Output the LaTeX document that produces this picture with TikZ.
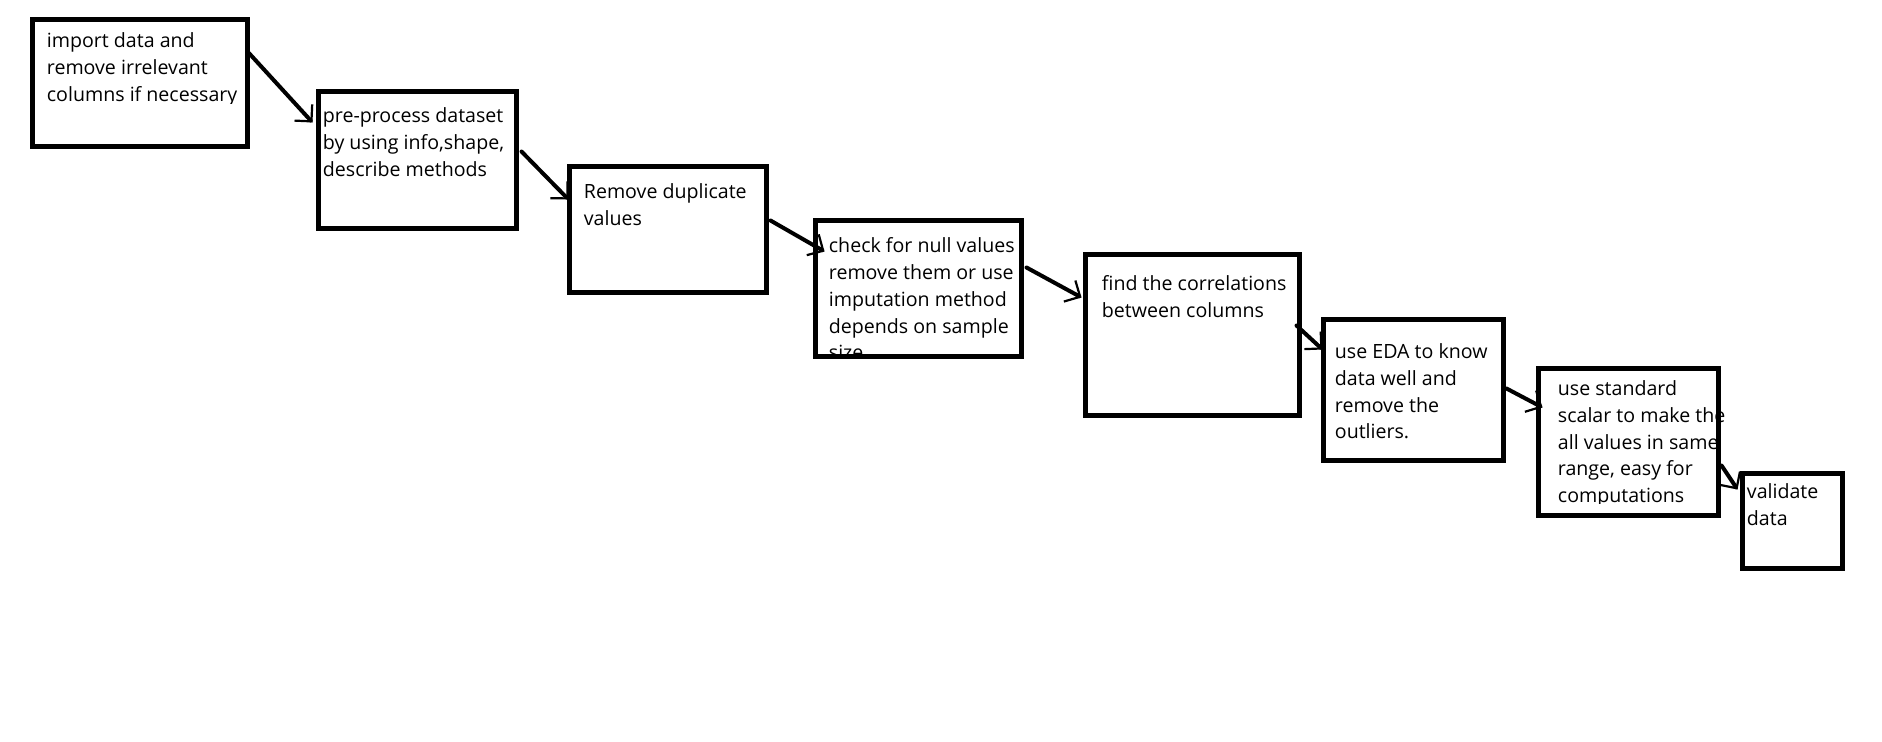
\documentclass[tikz,border=0pt]{standalone}
\usepackage{fontspec}
\setmainfont{Open Sans}
\usetikzlibrary{arrows.meta,fit,calc}
\begin{document}
\begin{tikzpicture}[x=0.5pt,y=-0.5pt,
  stepbox/.style={draw=black, line width=2.5pt, inner sep=0pt},
  steptext/.style={anchor=north west, inner sep=0pt, align=left,
    font=\fontsize{9.8pt}{13.35pt}\selectfont},
  flow/.style={draw=black, line width=2pt, line cap=round,
    -{Straight Barb[length=6pt,width=12pt,line width=1.1pt]}}]
  % canvas
  \useasboundingbox[fill=white] (0,0) rectangle (1882,741);

  % process boxes
  \node[stepbox, fit={(32,19)(247,146)}]    (b1) {};
  \node[stepbox, fit={(318,91)(516,228)}]   (b2) {};
  \node[stepbox, fit={(569,166)(766,292)}]  (b3) {};
  \node[stepbox, fit={(815,220)(1021,356)}] (b4) {};
  \node[stepbox, fit={(1085,254)(1299,415)}] (b5) {};
  \node[stepbox, fit={(1323,319)(1503,460)}] (b6) {};
  \node[stepbox, fit={(1538,368)(1718,515)}] (b7) {};
  \node[stepbox, fit={(1742,473)(1842,568)}] (b8) {};

  % box labels (some text frames cut off their last line)
  \begin{scope}
    \clip ($(b1.north west)+(0,0)$) rectangle ($(b1.north east)+(0,87)$);
    \node[steptext] (t1) at ($(b1.north west)+(17,16)$)
      {import data and\\remove irrelevant\\columns if necessary};
  \end{scope}
  \node[steptext] (t2) at ($(b2.north west)+(7,19)$)
    {pre-process dataset\\by using info,shape,\\describe methods};
  \node[steptext] (t3) at ($(b3.north west)+(17,20)$)
    {Remove duplicate\\values};
  \begin{scope}
    \clip (b4.north west) rectangle (b4.south east);
    \node[steptext] (t4) at ($(b4.north west)+(16,20)$)
      {check for null values\\remove them or use\\imputation method\\depends on sample\\size};
  \end{scope}
  \node[steptext] (t5) at ($(b5.north west)+(19,24)$)
    {find the correlations\\between columns};
  \node[steptext] (t6) at ($(b6.north west)+(14,27)$)
    {use EDA to know\\data well and\\remove the\\outliers.};
  \begin{scope}
    \clip ($(b7.north west)+(0,0)$) rectangle ($(b7.north east)+(30,138)$);
    \node[steptext] (t7) at ($(b7.north west)+(22,15)$)
      {use standard\\scalar to make the\\all values in same\\range, easy for\\computations};
  \end{scope}
  \node[steptext] (t8) at ($(b8.north west)+(7,13)$)
    {validate\\data};

  % connector end points
  \coordinate (s1) at ($(b1.north east)+(-2,35)$);
  \coordinate (e1) at ($(b2.north west)+(-3,34)$);
  \coordinate (s2) at ($(b2.north east)+(3,63)$);
  \coordinate (e2) at ($(b3.north west)+(2,36)$);
  \coordinate (s3) at ($(b3.north east)+(2,57)$);
  \coordinate (e3) at ($(b4.north west)+(12,34)$);
  \coordinate (s4) at ($(b4.north east)+(3,50)$);
  \coordinate (e4) at ($(b5.north west)+(-1,46)$);
  \coordinate (s5) at ($(b5.north east)+(-5,74)$);
  \coordinate (e5) at ($(b6.north west)+(2,33)$);
  \coordinate (s6) at ($(b6.north east)+(1,72)$);
  \coordinate (e6) at ($(b7.north west)+(7,42)$);
  \coordinate (s7) at ($(b7.north east)+(1,100)$);
  \coordinate (e7) at ($(b8.north west)+(-2,19)$);

  % connectors
  \foreach \i in {1,...,7} {
    \draw[flow] (s\i) -- (e\i);
  }
\end{tikzpicture}
\end{document}
